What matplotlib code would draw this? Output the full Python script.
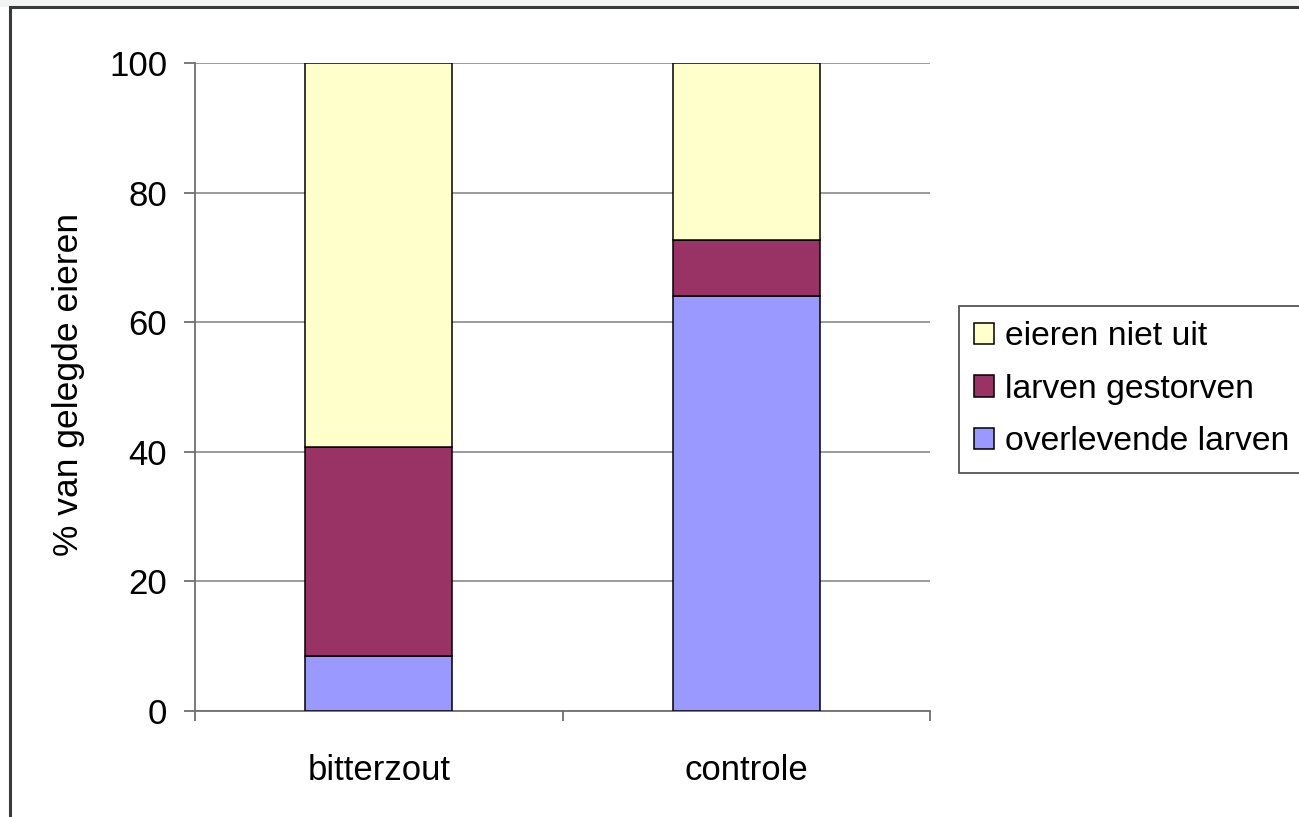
import matplotlib
matplotlib.use("Agg")
import matplotlib.pyplot as plt
from matplotlib.patches import Rectangle
import numpy as np

plt.rcParams['font.family'] = ['Liberation Sans', 'DejaVu Sans']

categories = ["bitterzout", "controle"]
overlevende = [8.5, 64.0]
gestorven = [32.2, 8.7]
niet_uit = [59.3, 27.3]
series_labels = ["eieren niet uit", "larven gestorven", "overlevende larven"]
colors = {"niet_uit": "#FFFFCC", "gestorven": "#993366", "overlevende": "#9999FF"}
yticks = [0, 20, 40, 60, 80, 100]

W, H = 1299, 817
fig = plt.figure(figsize=(W/100, H/100), dpi=100)
fig.patch.set_facecolor("white")

# top light strip and frame
fig.patches.append(Rectangle((0, 1 - 7/H), 1, 7/H, transform=fig.transFigure,
                             facecolor="#f2f3f3", edgecolor="none", zorder=0))
fig.patches.append(Rectangle((10/W, -0.1), 1.2, 1.1 - 7/H, transform=fig.transFigure,
                             facecolor="none", edgecolor="#3a3a3a", lw=2.2, zorder=1))

ax = fig.add_axes([195/W, 1 - 711/H, 735/W, 648/H])
x = np.arange(len(categories))
bw = 0.4
b1 = ax.bar(x, overlevende, bw, color=colors["overlevende"], edgecolor="black", lw=1.1, zorder=3)
b2 = ax.bar(x, gestorven, bw, bottom=overlevende, color=colors["gestorven"], edgecolor="black", lw=1.1, zorder=3)
bottom2 = np.array(overlevende) + np.array(gestorven)
b3 = ax.bar(x, niet_uit, bw, bottom=bottom2, color=colors["niet_uit"], edgecolor="black", lw=1.1, zorder=3)

ax.set_xlim(-0.5, 1.5)
ax.set_ylim(0, 100)
ax.set_yticks(yticks)
ax.set_yticklabels([str(v) for v in yticks])
ax.yaxis.grid(True, color="#808080", lw=1.1, zorder=0)
ax.set_axisbelow(True)
for s in ["top", "right"]:
    ax.spines[s].set_visible(False)
for s in ["left", "bottom"]:
    ax.spines[s].set_color("#707070")
    ax.spines[s].set_linewidth(1.3)
ax.tick_params(axis="y", direction="out", length=8, width=1.3, color="#707070", pad=12, labelsize=25)
ax.set_xticks(x)
ax.set_xticklabels(categories)
ax.tick_params(axis="x", which="major", length=0, pad=31, labelsize=25)
ax.set_xticks([-0.5, 0.5, 1.5], minor=True)
ax.tick_params(axis="x", which="minor", direction="out", length=7, width=1.3, color="#707070")

fig.text(69/W, 1 - 384/H, "% van gelegde eieren", rotation=90, ha="center", va="center", fontsize=25.5)

leg = fig.legend([b3, b2, b1], series_labels, loc="upper left",
                 bbox_to_anchor=(959/W, 1 - 306/H), fontsize=24.3,
                 frameon=True, fancybox=False, edgecolor="#555555", framealpha=1,
                 handlelength=0.6, handleheight=0.6, handletextpad=0.3,
                 borderpad=0.45, labelspacing=0.64, borderaxespad=0)
leg.get_frame().set_linewidth(1.3)

fig.savefig("out.png", dpi=100)
